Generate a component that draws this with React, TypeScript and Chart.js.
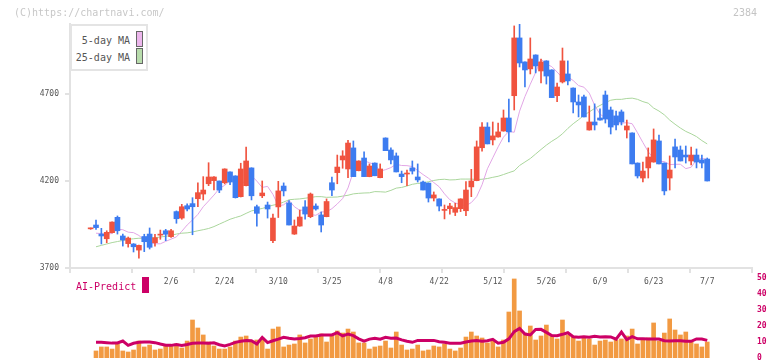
import React, { useEffect, useRef } from "react";
import { Chart, registerables } from "chart.js";

Chart.register(...registerables);

// ---- date axis ----
const dateLabels = ["2/6", "2/24", "3/10", "3/25", "4/8", "4/22", "5/12", "5/26", "6/9", "6/23", "7/7"];
const dateLabelIndex = [15, 25, 35, 45, 55, 65, 75, 85, 95, 105, 115];

// ---- daily prices (one entry per trading day) ----
const opens = [
  3925, 3947, 3895, 3868, 3903, 3991, 3884, 3840, 3838, 3803,
  3881, 3895, 3845, 3889, 3914, 3880, 4024, 3987, 4058, 4070,
  4098, 4125, 4184, 4202, 4200, 4190, 4252, 4229, 4110, 4173,
  4275, 4052, 4115, 4062, 3857, 4051, 4171, 4074, 3895, 3941,
  4051, 3995, 4056, 4005, 3995, 4190, 4248, 4321, 4269, 4390,
  4259, 4332, 4225, 4303, 4219, 4447, 4378, 4344, 4240, 4240,
  4275, 4223, 4194, 4188, 4102, 4097, 4031, 4041, 4020, 4041,
  4029, 4166, 4202, 4391, 4510, 4436, 4453, 4487, 4562, 4690,
  5022, 4884, 4844, 4924, 4832, 4890, 4838, 4690, 4769, 4815,
  4734, 4654, 4683, 4493, 4539, 4562, 4694, 4608, 4574, 4597,
  4493, 4476, 4303, 4217, 4275, 4309, 4430, 4303, 4217, 4396,
  4378, 4349, 4315, 4349, 4321, 4326,
];
const highs = [
  3930, 3976, 3928, 3914, 3966, 3999, 3895, 3878, 3840, 3832,
  3894, 3930, 3894, 3918, 3922, 3922, 4028, 4066, 4068, 4104,
  4190, 4225, 4305, 4225, 4200, 4270, 4252, 4230, 4302, 4395,
  4276, 4062, 4200, 4079, 4010, 4198, 4189, 4087, 3976, 4033,
  4087, 4131, 4068, 4022, 4097, 4223, 4349, 4374, 4434, 4430,
  4316, 4367, 4298, 4304, 4298, 4448, 4390, 4361, 4257, 4263,
  4315, 4298, 4200, 4189, 4137, 4098, 4062, 4072, 4072, 4098,
  4196, 4267, 4430, 4535, 4535, 4539, 4533, 4608, 4671, 5091,
  5102, 4885, 5022, 4925, 4901, 4891, 4839, 4763, 4964, 4890,
  4735, 4694, 4694, 4631, 4643, 4614, 4717, 4625, 4602, 4608,
  4550, 4477, 4304, 4309, 4390, 4499, 4464, 4304, 4344, 4441,
  4401, 4401, 4395, 4384, 4349, 4332,
];
const lows = [
  3922, 3922, 3838, 3845, 3901, 3895, 3826, 3820, 3792, 3756,
  3794, 3809, 3826, 3865, 3857, 3875, 3957, 3980, 4028, 3891,
  4052, 4091, 4173, 4148, 4133, 4183, 4179, 4102, 4108, 4171,
  4091, 3941, 4104, 3987, 3845, 3990, 4114, 3947, 3893, 3940,
  3980, 3989, 4033, 3907, 3994, 4115, 4184, 4273, 4219, 4225,
  4258, 4225, 4224, 4230, 4218, 4374, 4298, 4252, 4190, 4173,
  4240, 4194, 4148, 4079, 4085, 4028, 3982, 4009, 4001, 4024,
  4001, 4110, 4201, 4372, 4413, 4407, 4452, 4486, 4424, 4608,
  4855, 4740, 4815, 4821, 4763, 4757, 4679, 4656, 4763, 4752,
  4591, 4568, 4568, 4492, 4493, 4550, 4533, 4470, 4493, 4522,
  4447, 4298, 4217, 4194, 4217, 4308, 4298, 4120, 4148, 4275,
  4315, 4303, 4292, 4275, 4275, 4200,
];
const closes = [
  3928, 3932, 3884, 3905, 3964, 3914, 3861, 3872, 3822, 3830,
  3851, 3819, 3874, 3892, 3894, 3914, 3983, 4052, 4039, 4052,
  4133, 4148, 4223, 4223, 4148, 4269, 4194, 4104, 4269, 4315,
  4115, 4014, 4131, 4039, 3987, 4143, 4143, 3947, 3941, 3993,
  4010, 4125, 4039, 3947, 4082, 4148, 4280, 4344, 4418, 4225,
  4315, 4225, 4286, 4230, 4269, 4374, 4321, 4252, 4225, 4243,
  4257, 4206, 4148, 4102, 4120, 4056, 4034, 4056, 4047, 4097,
  4148, 4200, 4396, 4510, 4413, 4459, 4482, 4562, 4482, 5022,
  4878, 4838, 4901, 4861, 4884, 4803, 4679, 4740, 4890, 4775,
  4654, 4637, 4568, 4539, 4522, 4550, 4556, 4510, 4522, 4539,
  4516, 4298, 4229, 4257, 4338, 4436, 4298, 4143, 4263, 4338,
  4315, 4338, 4349, 4309, 4303, 4200,
];

// ---- moving averages, plotted from day 1 onward ----
const ma5 = [
  3900, 3898, 3895, 3898, 3923, 3920, 3906, 3903, 3887, 3860,
  3847, 3839, 3839, 3853, 3866, 3879, 3911, 3947, 3976, 4008,
  4052, 4085, 4119, 4156, 4175, 4202, 4211, 4188, 4197, 4230,
  4199, 4163, 4169, 4123, 4057, 4063, 4089, 4052, 4032, 4033,
  4007, 4003, 4022, 4023, 4041, 4068, 4099, 4160, 4254, 4283,
  4316, 4305, 4294, 4256, 4265, 4277, 4296, 4289, 4288, 4283,
  4260, 4237, 4216, 4191, 4167, 4126, 4092, 4074, 4063, 4058,
  4076, 4110, 4178, 4270, 4333, 4396, 4452, 4485, 4480, 4601,
  4685, 4756, 4824, 4900, 4872, 4857, 4826, 4793, 4799, 4777,
  4748, 4739, 4705, 4635, 4584, 4563, 4547, 4535, 4532, 4535,
  4529, 4477, 4421, 4368, 4328, 4312, 4312, 4294, 4296, 4296,
  4271, 4279, 4321, 4330, 4323,
];
const ma25 = [
  3822, 3830, 3838, 3846, 3852, 3858, 3864, 3868, 3871, 3871,
  3872, 3874, 3878, 3882, 3888, 3895, 3900, 3902, 3907, 3914,
  3920, 3927, 3938, 3952, 3966, 3980, 3990, 3999, 4014, 4028,
  4036, 4042, 4052, 4061, 4067, 4079, 4092, 4095, 4097, 4101,
  4105, 4110, 4110, 4106, 4107, 4108, 4113, 4118, 4126, 4129,
  4131, 4132, 4139, 4138, 4136, 4146, 4159, 4163, 4171, 4181,
  4186, 4188, 4196, 4203, 4208, 4210, 4206, 4207, 4211, 4211,
  4211, 4208, 4210, 4214, 4221, 4227, 4237, 4248, 4258, 4289,
  4309, 4329, 4355, 4381, 4406, 4428, 4447, 4471, 4502, 4529,
  4552, 4577, 4597, 4617, 4634, 4650, 4664, 4669, 4669, 4674,
  4676, 4669, 4656, 4647, 4619, 4602, 4580, 4550, 4526, 4504,
  4485, 4471, 4455, 4432, 4413,
];

// ---- AI-Predict panel, from day 1 onward ----
const aiBars = [
  4.4, 6.9, 6.9, 5.6, 8.75, 4.4, 3.75, 5, 10.6, 6.9,
  8.1, 5, 5.6, 7.5, 7.5, 8.75, 6.25, 10.6, 23.75, 18.75,
  14.4, 10, 7.5, 5.6, 5.6, 6.9, 10.6, 13.1, 13.75, 10,
  11.25, 12.5, 5.6, 18.1, 19.4, 6.9, 8.1, 8.75, 14.4, 9.4,
  11.9, 13.1, 15, 10, 14.4, 16.9, 15.6, 18.1, 16.25, 9.4,
  9.4, 5.6, 6.9, 7.5, 10.6, 6.25, 16.25, 8.1, 5, 5.6,
  8.1, 4.4, 5, 7.5, 6.9, 8.75, 5.6, 4.4, 6.25, 13.1,
  16.25, 13.75, 12.5, 9.4, 10.6, 6.9, 11.25, 28.75, 49.4, 29.4,
  15.6, 20, 11.25, 13.75, 20.6, 13.75, 11.9, 23.75, 14.4, 13.1,
  10.6, 12.5, 11.9, 8.1, 10.6, 11.25, 10, 11.25, 11.9, 13.75,
  18.1, 8.75, 11.25, 12.5, 21.9, 10.6, 15.6, 24.4, 17.5, 14.4,
  16.25, 10, 8.75, 6.9, 10,
];
const aiLine = [
  9.8, 9.8, 9.6, 9.3, 9.4, 10.6, 7.9, 9.2, 9.8, 10,
  10, 9.6, 8.75, 8, 7.9, 8.4, 7.9, 8.4, 9.2, 9.4,
  9.4, 9.2, 9.5, 8.3, 7.5, 8.5, 9.8, 10.5, 11, 10.8,
  8.75, 12.9, 9.6, 10.8, 11.8, 12.9, 12.3, 11.9, 12.2, 12.7,
  13.7, 13.7, 14.4, 14.4, 14.4, 15.8, 13.8, 15, 14, 12,
  10.6, 11.8, 12.3, 11.7, 12.9, 12.3, 12.5, 11.3, 10.5, 9.8,
  11, 11, 11, 11, 10.2, 9.8, 9.2, 9.2, 9.2, 10,
  10.6, 11, 10.5, 10.8, 11.7, 9.2, 9.8, 12, 16.5, 18.5,
  15, 14.4, 17.8, 17.9, 16, 14, 13.9, 14.8, 15.8, 13.3,
  12.9, 13.3, 13, 13.6, 13.2, 13.3, 13.2, 11.8, 16.2, 11.5,
  13.3, 12, 12, 11.9, 11.9, 11.9, 10.8, 10.6, 10.8, 10.8,
  10.5, 10.4, 11.9, 11.9, 11,
];

const priceTicks = [3700, 4200, 4700];
const aiTicks = [0, 10, 20, 30, 40, 50];

const X_MIN = -3.85;
const X_MAX = 123.35;
const PRICE_MIN = 3700;
const PRICE_MAX = 5102;

const MONO = '"DejaVu Sans Mono", "Liberation Mono", monospace';
const UP = "#f0533f";
const DOWN = "#3d7cf0";
const AXIS = "#e2e2e2";
const CRIMSON = "#cc0066";

const fromDayOne = (values: number[]) => values.map((v, k) => ({ x: k + 1, y: v }));
const plain = (v: any) => String(v);

function priceConfig(): any {
  const days = opens.map((_, i) => i);
  const colorOf = (ctx: any) => (closes[ctx.dataIndex] >= opens[ctx.dataIndex] ? UP : DOWN);
  return {
    type: "bar",
    data: {
      datasets: [
        {
          type: "bar",
          data: days.map((i) => ({ x: i, y: [opens[i], closes[i]] })),
          backgroundColor: colorOf,
          borderWidth: 0,
          barThickness: 5,
          minBarLength: 1,
          grouped: false,
          xAxisID: "x",
          yAxisID: "y",
          order: 0,
        },
        {
          type: "bar",
          data: days.map((i) => ({ x: i, y: [lows[i], highs[i]] })),
          backgroundColor: colorOf,
          borderWidth: 0,
          barThickness: 1,
          grouped: false,
          xAxisID: "x",
          yAxisID: "y",
          order: 1,
        },
        {
          type: "line",
          data: fromDayOne(ma5),
          borderColor: "#e2a6e6",
          borderWidth: 1,
          pointRadius: 0,
          tension: 0,
          xAxisID: "x",
          yAxisID: "y",
          order: 2,
        },
        {
          type: "line",
          data: fromDayOne(ma25),
          borderColor: "#aad69c",
          borderWidth: 1,
          pointRadius: 0,
          tension: 0,
          xAxisID: "x",
          yAxisID: "y",
          order: 3,
        },
      ],
    },
    options: {
      animation: false,
      responsive: false,
      maintainAspectRatio: false,
      devicePixelRatio: 1,
      events: [],
      layout: { padding: { top: 24, right: 20, bottom: 0, left: 0 } },
      plugins: { legend: { display: false }, tooltip: { enabled: false } },
      scales: {
        x: {
          type: "linear",
          position: "bottom",
          weight: 0,
          min: X_MIN,
          max: X_MAX,
          offset: false,
          grid: { drawOnChartArea: false, offset: false, tickLength: 5, color: AXIS, lineWidth: 2 },
          border: { display: true, color: AXIS, width: 2 },
          ticks: { display: false },
          afterBuildTicks: (s: any) => {
            s.ticks = Array.from({ length: 12 }, (_, k) => ({ value: X_MIN + (k * (X_MAX - X_MIN)) / 11 }));
          },
          afterFit: (s: any) => {
            s.height = 5;
            s.paddingLeft = 0;
            s.paddingRight = 0;
          },
        },
        xl: {
          type: "linear",
          position: "bottom",
          weight: 1,
          min: X_MIN,
          max: X_MAX,
          offset: false,
          grid: { display: false, drawTicks: false, offset: false },
          border: { display: false },
          ticks: {
            autoSkip: false,
            maxRotation: 0,
            padding: 4,
            color: "#555",
            font: { family: MONO, size: 8 },
            callback: (_v: any, i: number) => dateLabels[i],
          },
          afterBuildTicks: (s: any) => {
            s.ticks = dateLabelIndex.map((v) => ({ value: v }));
          },
          afterFit: (s: any) => {
            s.height = 27;
            s.paddingLeft = 0;
            s.paddingRight = 0;
          },
        },
        y: {
          type: "linear",
          position: "left",
          min: PRICE_MIN,
          max: PRICE_MAX,
          beginAtZero: false,
          grid: { drawOnChartArea: false, tickLength: 5, color: AXIS, lineWidth: 2 },
          border: { display: true, color: AXIS, width: 2 },
          ticks: { padding: 6, color: "#555", font: { family: MONO, size: 8 }, callback: plain },
          afterBuildTicks: (s: any) => {
            s.ticks = priceTicks.map((v) => ({ value: v }));
          },
          afterFit: (s: any) => {
            s.width = 70;
            s.paddingTop = 0;
            s.paddingBottom = 0;
          },
        },
      },
    },
  };
}

function aiConfig(): any {
  return {
    type: "bar",
    data: {
      datasets: [
        {
          type: "line",
          data: fromDayOne(aiLine),
          borderColor: CRIMSON,
          borderWidth: 3,
          pointRadius: 0,
          tension: 0,
          order: 0,
        },
        {
          type: "bar",
          data: fromDayOne(aiBars),
          backgroundColor: "#f29a42",
          borderWidth: 0,
          barThickness: 4,
          order: 1,
        },
      ],
    },
    options: {
      animation: false,
      responsive: false,
      maintainAspectRatio: false,
      devicePixelRatio: 1,
      events: [],
      layout: { padding: { top: 16, right: 0, bottom: 3, left: 70 } },
      plugins: { legend: { display: false }, tooltip: { enabled: false } },
      scales: {
        x: { type: "linear", min: X_MIN, max: X_MAX, offset: false, display: false, grid: { offset: false } },
        y: {
          type: "linear",
          position: "right",
          min: 0,
          max: 50,
          grid: { display: false, drawTicks: false },
          border: { display: false },
          ticks: { padding: 5, color: CRIMSON, font: { family: MONO, size: 8, weight: "bold" }, callback: plain },
          afterBuildTicks: (s: any) => {
            s.ticks = aiTicks.map((v) => ({ value: v }));
          },
          afterFit: (s: any) => {
            s.width = 20;
            s.paddingTop = 0;
            s.paddingBottom = 0;
          },
        },
      },
    },
  };
}

const text = (extra: React.CSSProperties): React.CSSProperties => ({
  position: "absolute",
  fontFamily: MONO,
  fontSize: 10,
  lineHeight: "12px",
  whiteSpace: "nowrap",
  ...extra,
});

export default function App() {
  const priceRef = useRef<HTMLCanvasElement>(null);
  const aiRef = useRef<HTMLCanvasElement>(null);

  useEffect(() => {
    const priceChart = new Chart(priceRef.current as HTMLCanvasElement, priceConfig());
    const aiChart = new Chart(aiRef.current as HTMLCanvasElement, aiConfig());
    return () => {
      priceChart.destroy();
      aiChart.destroy();
    };
  }, []);

  return (
    <div
      style={{
        position: "absolute",
        left: 0,
        top: 0,
        width: 772,
        height: 361,
        overflow: "hidden",
        background: "#fff",
      }}
    >
      <canvas
        ref={priceRef}
        width={772}
        height={300}
        style={{ position: "absolute", left: 0, top: 0, width: 772, height: 300 }}
      />
      <canvas
        ref={aiRef}
        width={772}
        height={99}
        style={{ position: "absolute", left: 0, top: 262, width: 772, height: 99 }}
      />

      <div style={text({ left: 14, top: 7, color: "#c8c8c8" })}>(C)https://chartnavi.com/</div>
      <div style={text({ left: 733, top: 6.5, color: "#c4c4c4" })}>2384</div>

      <div
        style={{
          position: "absolute",
          left: 70,
          top: 24,
          width: 78,
          height: 47,
          boxSizing: "border-box",
          border: "2px solid #e4e4e4",
          background: "#fff",
        }}
      />
      <div style={text({ left: 70, top: 35, width: 60, textAlign: "right", color: "#555" })}>5-day MA</div>
      <div style={text({ left: 70, top: 52, width: 60, textAlign: "right", color: "#555" })}>25-day MA</div>
      <div
        style={{
          position: "absolute",
          left: 136,
          top: 31,
          width: 7,
          height: 16,
          boxSizing: "border-box",
          border: "1px solid #666",
          background: "#ecb6ec",
        }}
      />
      <div
        style={{
          position: "absolute",
          left: 136,
          top: 48,
          width: 7,
          height: 16,
          boxSizing: "border-box",
          border: "1px solid #666",
          background: "#b8dcac",
        }}
      />

      <div style={text({ left: 76, top: 281, color: CRIMSON })}>AI-Predict</div>
      <div style={{ position: "absolute", left: 142, top: 277, width: 7, height: 16, background: CRIMSON }} />
    </div>
  );
}
